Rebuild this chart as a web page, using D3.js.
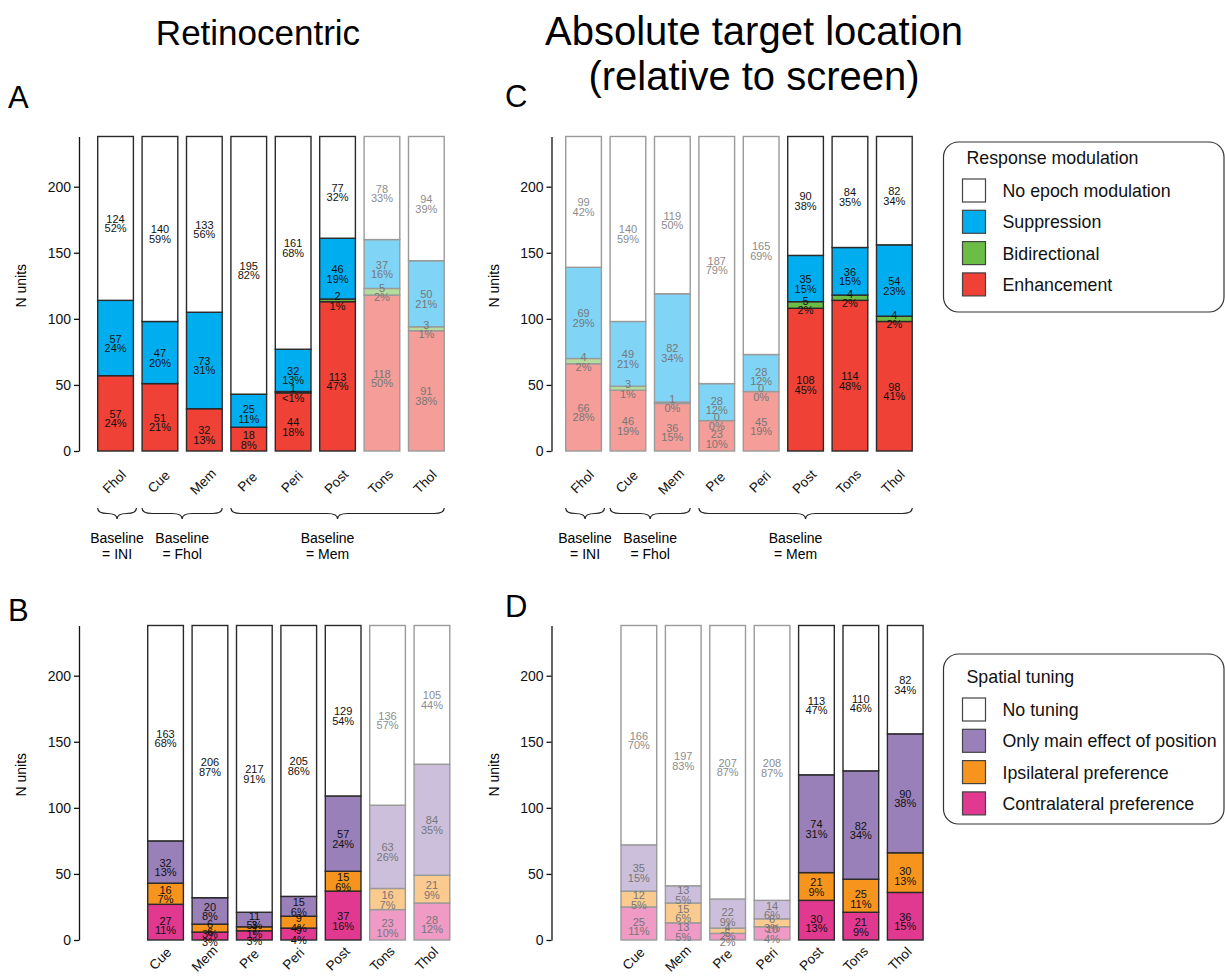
<!DOCTYPE html>
<html lang="en">
<head>
<meta charset="UTF-8">
<title>Response modulation and spatial tuning</title>
<script src="https://d3js.org/d3.v7.min.js"></script>
<style>
  body { margin: 0; background: #fff; }
  svg { font-family: "Liberation Sans", Arial, Helvetica, sans-serif; }
  .axis text { font-size: 14px; fill: #111; }
  .axis path, .axis line { stroke: #111; stroke-width: 1.3; }
  .seglabel { font-size: 11px; text-anchor: middle; }
  .cat { font-size: 13.5px; fill: #111; }
  .legend text { font-size: 17.8px; fill: #111; }
</style>
</head>
<body>
<svg id="svg"></svg>
<script>
// ---------- data ----------
const respCats = ["Fhol", "Cue", "Mem", "Pre", "Peri", "Post", "Tons", "Thol"];
const respKeys = ["Enhancement", "Bidirectional", "Suppression", "No epoch modulation"]; // bottom -> top

// A: retinocentric
const retEnh = [57, 51, 32, 18, 44, 113, 118, 91];
const retEnhPct = ["24%", "21%", "13%", "8%", "18%", "47%", "50%", "38%"];
const retBid = [0, 0, 0, 0, 1, 2, 5, 3];
const retBidPct = ["", "", "", "", "<1%", "1%", "2%", "1%"];
const retSup = [57, 47, 73, 25, 32, 46, 37, 50];
const retSupPct = ["24%", "20%", "31%", "11%", "13%", "19%", "16%", "21%"];
const retNone = [124, 140, 133, 195, 161, 77, 78, 94];
const retNonePct = ["52%", "59%", "56%", "82%", "68%", "32%", "33%", "39%"];
const retFaded = ["Tons", "Thol"];

// C: absolute target location
const absEnh = [66, 46, 36, 23, 45, 108, 114, 98];
const absEnhPct = ["28%", "19%", "15%", "10%", "19%", "45%", "48%", "41%"];
const absBid = [4, 3, 1, 0, 0, 5, 4, 4];
const absBidPct = ["2%", "1%", "0%", "0%", "0%", "2%", "2%", "2%"];
const absSup = [69, 49, 82, 28, 28, 35, 36, 54];
const absSupPct = ["29%", "21%", "34%", "12%", "12%", "15%", "15%", "23%"];
const absNone = [99, 140, 119, 187, 165, 90, 84, 82];
const absNonePct = ["42%", "59%", "50%", "79%", "69%", "38%", "35%", "34%"];
const absFaded = ["Fhol", "Cue", "Mem", "Pre", "Peri"];

const tuneCats = ["Cue", "Mem", "Pre", "Peri", "Post", "Tons", "Thol"];
const tuneKeys = ["Contralateral preference", "Ipsilateral preference", "Only main effect of position", "No tuning"];

// B: retinocentric spatial tuning
const retContra = [27, 6, 7, 9, 37, 23, 28];
const retContraPct = ["11%", "3%", "3%", "4%", "16%", "10%", "12%"];
const retIpsi = [16, 6, 3, 9, 15, 16, 21];
const retIpsiPct = ["7%", "3%", "1%", "4%", "6%", "7%", "9%"];
const retMain = [32, 20, 11, 15, 57, 63, 84];
const retMainPct = ["13%", "8%", "5%", "6%", "24%", "26%", "35%"];
const retNoTune = [163, 206, 217, 205, 129, 136, 105];
const retNoTunePct = ["68%", "87%", "91%", "86%", "54%", "57%", "44%"];
const retTuneFaded = ["Tons", "Thol"];

// D: absolute spatial tuning
const absContra = [25, 13, 5, 10, 30, 21, 36];
const absContraPct = ["11%", "5%", "2%", "4%", "13%", "9%", "15%"];
const absIpsi = [12, 15, 4, 6, 21, 25, 30];
const absIpsiPct = ["5%", "6%", "2%", "3%", "9%", "11%", "13%"];
const absMain = [35, 13, 22, 14, 74, 82, 90];
const absMainPct = ["15%", "5%", "9%", "6%", "31%", "34%", "38%"];
const absNoTune = [166, 197, 207, 208, 113, 110, 82];
const absNoTunePct = ["70%", "83%", "87%", "87%", "47%", "46%", "34%"];
const absTuneFaded = ["Cue", "Mem", "Pre", "Peri"];

const yTicks = [0, 50, 100, 150, 200];
const nTotal = 238;

const baselineGroups = [
  { from: "Fhol", to: "Fhol", label: "= INI", shift: 0 },
  { from: "Cue", to: "Mem", label: "= Fhol", shift: 0 },
  { from: "Pre", to: "Thol", label: "= Mem", shift: -10 }
];

// ---------- colours ----------
const respColor = {
  "Enhancement": ["#ef4136", "#f59d98"],
  "Bidirectional": ["#6cbd45", "#b5dc9f"],
  "Suppression": ["#00aeef", "#80d5f7"],
  "No epoch modulation": ["#ffffff", "#ffffff"]
};
const tuneColor = {
  "Contralateral preference": ["#e0398f", "#f09ac6"],
  "Ipsilateral preference": ["#f7941d", "#fbca8e"],
  "Only main effect of position": ["#9a80b9", "#ccbfdc"],
  "No tuning": ["#ffffff", "#ffffff"]
};

// ---------- svg ----------
const W = 1225, H = 976;
const svg = d3.select("#svg").attr("width", W).attr("height", H);

// titles
svg.append("text").attr("x", 258).attr("y", 45).attr("text-anchor", "middle")
  .style("font-size", "35px").text("Retinocentric");
svg.append("text").attr("x", 754).attr("y", 45).attr("text-anchor", "middle")
  .style("font-size", "40px").text("Absolute target location");
svg.append("text").attr("x", 754).attr("y", 90).attr("text-anchor", "middle")
  .style("font-size", "40px").text("(relative to screen)");

[["A", 8, 108], ["B", 8, 621], ["C", 505, 107], ["D", 505, 617]].forEach(function (p) {
  svg.append("text").attr("x", p[1]).attr("y", p[2]).style("font-size", "31px").text(p[0]);
});

function makeRows(cats, keys, series, pcts) {
  return cats.map(function (c, i) {
    const r = { cat: c, pct: {} };
    keys.forEach(function (k, j) {
      r[k] = series[j][i];
      r.pct[k] = pcts[j][i];
    });
    return r;
  });
}

function drawPanel(opt) {
  const g = svg.append("g");
  const y = d3.scaleLinear().domain([0, nTotal]).range([opt.bottom, opt.bottom - nTotal * 1.3215]);
  const step = 44.4, gap = 8.7;
  const x = d3.scaleBand().domain(opt.cats)
    .range([opt.firstBar - gap / 2, opt.firstBar - gap / 2 + opt.cats.length * step])
    .paddingInner(gap / step).paddingOuter(gap / step / 2);

  g.append("g").attr("class", "axis")
    .attr("transform", "translate(" + opt.axisX + ",0)")
    .call(d3.axisLeft(y).tickValues(yTicks).tickSize(5).tickSizeOuter(0).tickPadding(3));

  g.append("text").attr("transform", "translate(" + (opt.axisX - 53) + "," + ((y(0) + y(nTotal)) / 2 - 8) + ") rotate(-90)")
    .attr("text-anchor", "middle").style("font-size", "14px").text("N units");

  const rows = makeRows(opt.cats, opt.keys, opt.series, opt.pcts);
  const stacked = d3.stack().keys(opt.keys)(rows);

  const layers = g.selectAll(".layer").data(stacked).enter().append("g");
  layers.selectAll("rect").data(function (s) { return s.map(function (d) { return { key: s.key, d: d }; }); })
    .enter().append("rect")
    .attr("x", function (e) { return x(e.d.data.cat); })
    .attr("width", x.bandwidth())
    .attr("y", function (e) { return y(e.d[1]); })
    .attr("height", function (e) { return y(e.d[0]) - y(e.d[1]); })
    .attr("fill", function (e) { return opt.colors[e.key][opt.faded.includes(e.d.data.cat) ? 1 : 0]; })
    .attr("stroke", function (e) { return opt.faded.includes(e.d.data.cat) ? "#9a9a9a" : "#2a2a2a"; })
    .attr("stroke-width", 1.4);

  // labels
  stacked.forEach(function (s) {
    s.forEach(function (d) {
      const pct = d.data.pct[s.key];
      if (!pct) return;
      const faded = opt.faded.includes(d.data.cat);
      const h = y(d[0]) - y(d[1]);
      const yc = (y(d[0]) + y(d[1])) / 2;
      const off = h > 40 ? 4.5 : h > 28 ? 2.5 : 0;
      const col = faded ? (s.key === opt.keys[3] ? "#8c8c8c" : "#777777") : "#111";
      const cx = x(d.data.cat) + x.bandwidth() / 2;
      const t = g.append("text").attr("class", "seglabel").attr("fill", col);
      t.append("tspan").attr("x", cx).attr("y", yc + off).text(d.data[s.key]);
      t.append("tspan").attr("x", cx).attr("y", yc + off + 9.5).text(pct);
    });
  });

  // category labels
  g.selectAll(".cat").data(opt.cats).enter().append("text")
    .attr("class", "cat").attr("text-anchor", "middle")
    .attr("transform", function (c) {
      return "translate(" + (x(c) + x.bandwidth() / 2 + opt.catDx) + "," + (opt.bottom + opt.catDy) + ") rotate(-45)";
    })
    .text(function (c) { return c; });

  // braces
  if (opt.braces) {
    const by = 508, bh = 11;
    baselineGroups.forEach(function (b) {
      const x1 = x(b.from), x2 = x(b.to) + x.bandwidth() + (b.from === b.to ? 3 : 0);
      const xm = (x1 + x2) / 2, q = Math.min(10, (x2 - x1) / 4);
      const m = by + bh / 2;
      const p = "M" + x1 + "," + by + " Q" + x1 + "," + m + " " + (x1 + q) + "," + m +
        " L" + (xm - q) + "," + m + " Q" + xm + "," + m + " " + xm + "," + (by + bh) +
        " Q" + xm + "," + m + " " + (xm + q) + "," + m +
        " L" + (x2 - q) + "," + m + " Q" + x2 + "," + m + " " + x2 + "," + by;
      g.append("path").attr("d", p).attr("fill", "none").attr("stroke", "#222").attr("stroke-width", 1.2);
      g.append("text").attr("x", xm + b.shift).attr("y", 543).attr("text-anchor", "middle")
        .style("font-size", "14px").text("Baseline");
      g.append("text").attr("x", xm + b.shift).attr("y", 559).attr("text-anchor", "middle")
        .style("font-size", "14px").text(b.label);
    });
  }
}

drawPanel({
  cats: respCats, keys: respKeys, colors: respColor, faded: retFaded,
  series: [retEnh, retBid, retSup, retNone], pcts: [retEnhPct, retBidPct, retSupPct, retNonePct],
  axisX: 79, firstBar: 97.7, bottom: 451, catDx: 2, catDy: 34, braces: true
});
drawPanel({
  cats: respCats, keys: respKeys, colors: respColor, faded: absFaded,
  series: [absEnh, absBid, absSup, absNone], pcts: [absEnhPct, absBidPct, absSupPct, absNonePct],
  axisX: 551.5, firstBar: 565.7, bottom: 451, catDx: 2, catDy: 34, braces: true
});
drawPanel({
  cats: tuneCats, keys: tuneKeys, colors: tuneColor, faded: retTuneFaded,
  series: [retContra, retIpsi, retMain, retNoTune], pcts: [retContraPct, retIpsiPct, retMainPct, retNoTunePct],
  axisX: 79, firstBar: 147.7, bottom: 940, catDx: -2, catDy: 22, braces: false
});
drawPanel({
  cats: tuneCats, keys: tuneKeys, colors: tuneColor, faded: absTuneFaded,
  series: [absContra, absIpsi, absMain, absNoTune], pcts: [absContraPct, absIpsiPct, absMainPct, absNoTunePct],
  axisX: 551.5, firstBar: 621, bottom: 940, catDx: -2, catDy: 22, braces: false
});

// ---------- legends ----------
function legend(x0, y0, h, rowTop, title, keys, colors) {
  const g = svg.append("g").attr("class", "legend");
  g.append("rect").attr("x", x0).attr("y", y0).attr("width", 1224 - x0).attr("height", h)
    .attr("rx", 15).attr("fill", "#fff").attr("stroke", "#333").attr("stroke-width", 1.2);
  g.append("text").attr("x", x0 + 23).attr("y", y0 + rowTop - 15).text(title);
  keys.slice().reverse().forEach(function (k, i) {
    const yy = y0 + rowTop + i * 31.3;
    g.append("rect").attr("x", x0 + 19).attr("y", yy).attr("width", 23).attr("height", 23)
      .attr("fill", colors[k][0]).attr("stroke", "#444").attr("stroke-width", 1.2);
    g.append("text").attr("x", x0 + 59).attr("y", yy + 18).text(k);
  });
}
legend(943.5, 142, 170, 37, "Response modulation", respKeys, respColor);
legend(943.5, 654, 170, 44, "Spatial tuning", tuneKeys, tuneColor);
</script>
</body>
</html>
